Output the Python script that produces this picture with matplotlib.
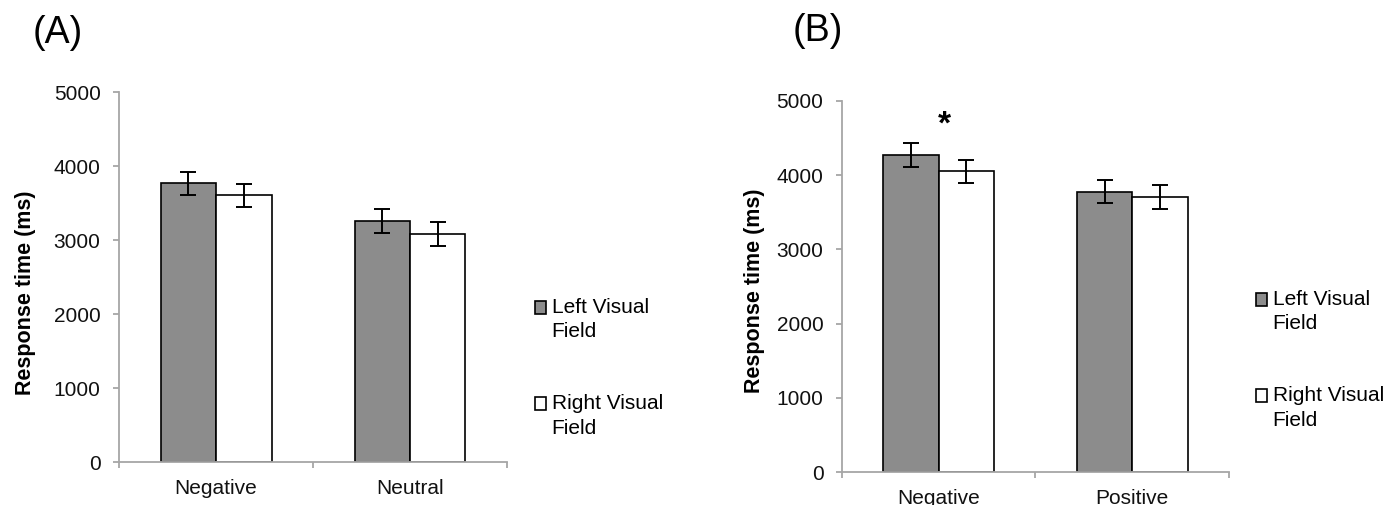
import matplotlib
matplotlib.use("Agg")
import matplotlib.pyplot as plt
from matplotlib.patches import Rectangle
from matplotlib.legend_handler import HandlerPatch

plt.rcParams['font.family'] = ['Liberation Sans', 'DejaVu Sans']

# Panel A data
cats_a = ['Negative', 'Neutral']
left_a = [3765, 3255]
right_a = [3605, 3078]
left_err_a = [158, 160]
right_err_a = [158, 160]

# Panel B data
cats_b = ['Negative', 'Positive']
left_b = [4275, 3775]
right_b = [4050, 3705]
left_err_b = [158, 155]
right_err_b = [158, 162]

series_labels = ['Left Visual\nField', 'Right Visual\nField']
grey = '#8c8c8c'
axis_grey = '#a6a6a6'


def top_box(legend, orig_handle, xdescent, ydescent, width, height, fontsize):
    # square sits next to the first text line, not centred on the label
    return Rectangle((-xdescent, -ydescent + 0.6 * fontsize), width, height)


def draw_panel(ax, cats, left, right, left_err, right_err, ylabel_xy, leg_xy):
    x = list(range(len(cats)))
    w = 0.286
    b1 = ax.bar([i - w / 2 for i in x], left, w, color=grey, edgecolor='black',
                linewidth=1.2, zorder=2)
    b2 = ax.bar([i + w / 2 for i in x], right, w, color='white', edgecolor='black',
                linewidth=1.2, zorder=2)
    ax.errorbar([i - w / 2 for i in x], left, yerr=left_err, fmt='none', ecolor='black',
                elinewidth=1.4, capsize=6, capthick=1.4, zorder=3)
    ax.errorbar([i + w / 2 for i in x], right, yerr=right_err, fmt='none', ecolor='black',
                elinewidth=1.4, capsize=6, capthick=1.4, zorder=3)

    ax.set_xlim(-0.5, len(cats) - 0.5)
    ax.set_ylim(0, 5000)
    ax.set_yticks([0, 1000, 2000, 3000, 4000, 5000])
    ax.set_xticks(x)
    ax.set_xticklabels(cats)
    ax.set_xticks([i - 0.5 for i in range(len(cats) + 1)], minor=True)

    for s in ['top', 'right']:
        ax.spines[s].set_visible(False)
    for s in ['left', 'bottom']:
        ax.spines[s].set_color(axis_grey)
        ax.spines[s].set_linewidth(1.3)

    ax.tick_params(axis='y', direction='out', length=4.3, width=1.3, color=axis_grey,
                   labelsize=15, pad=9, labelcolor='#111111')
    ax.tick_params(axis='x', which='major', length=0, labelsize=15, pad=12.5,
                   labelcolor='#111111')
    ax.tick_params(axis='x', which='minor', direction='out', length=4.3, width=1.3,
                   color=axis_grey)

    ax.set_ylabel('Response time (ms)', fontsize=15.5, fontweight='bold')
    ax.yaxis.set_label_coords(*ylabel_xy)

    leg = ax.legend(handles=[b1.patches[0], b2.patches[0]], labels=series_labels,
                    loc='upper left', bbox_to_anchor=leg_xy,
                    bbox_transform=ax.figure.transFigure, frameon=False, fontsize=15,
                    borderpad=0, borderaxespad=0, handlelength=0.55, handleheight=0.55,
                    handletextpad=0.25, labelspacing=2.55,
                    handler_map={Rectangle: HandlerPatch(patch_func=top_box)})
    for t in leg.get_texts():
        t.set_linespacing(1.35)
    return x


fig = plt.figure(figsize=(13.94, 5.05), dpi=100)
ax_a = fig.add_axes([0.0854, 0.0851, 0.2783, 0.7327])
ax_b = fig.add_axes([0.6040, 0.0653, 0.2776, 0.7347])

draw_panel(ax_a, cats_a, left_a, right_a, left_err_a, right_err_a,
           (-0.214, 0.457), (535 / 1394, 1 - 298 / 505))
xb = draw_panel(ax_b, cats_b, left_b, right_b, left_err_b, right_err_b,
                (-0.2, 0.488), (1256 / 1394, 1 - 290 / 505))

# significance marker above the Negative pair in panel B
ax_b.text(xb[0] + 0.03, 4680, '*', ha='center', va='center', fontsize=24, fontweight='bold')

fig.text(33 / 1394, 1 - 33 / 505, '(A)', ha='left', va='center', fontsize=27)
fig.text(793 / 1394, 1 - 31 / 505, '(B)', ha='left', va='center', fontsize=27)

fig.savefig('out.png', dpi=100)
